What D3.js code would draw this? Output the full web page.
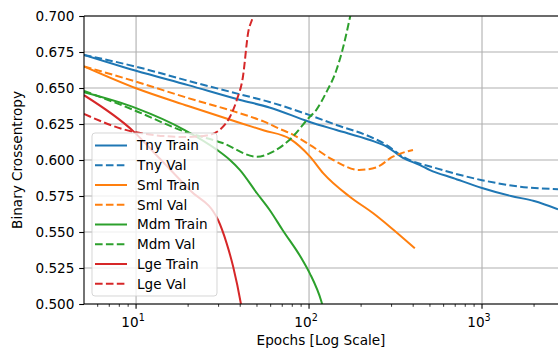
<!DOCTYPE html>
<html lang="en">
  <head>
    <meta charset="UTF-8" />
    <title>Binary Crossentropy vs Epochs</title>
    <script src="https://d3js.org/d3.v7.min.js"></script>
    <style>
      body { margin: 0; background: #fff; }
      svg text { font-family: "DejaVu Sans", sans-serif; fill: #000; }
    </style>
  </head>
  <body>
    <svg id="chart" width="558" height="352"></svg>

    <script>
      // values, epochs / loss per run
      const tnyTrainEpochs = [5, 10, 20, 40, 59, 100, 144, 225, 281, 349, 438, 500, 680, 1000, 1470, 2000, 2750];
      const tnyTrainLoss = [0.673, 0.662, 0.652, 0.6417, 0.6365, 0.6266, 0.6208, 0.6139, 0.6093, 0.6015, 0.5965, 0.593, 0.5875, 0.5806, 0.575, 0.5715, 0.5658];
      const tnyValEpochs = [5, 10, 20, 40, 59, 100, 144, 225, 281, 349, 547, 700, 1000, 1657, 2750];
      const tnyValLoss = [0.673, 0.6648, 0.655, 0.6456, 0.6403, 0.6313, 0.6243, 0.6162, 0.6104, 0.6023, 0.5942, 0.5905, 0.586, 0.5815, 0.5797];

      const smlTrainEpochs = [5, 10, 20, 40, 55, 78, 101, 121, 172, 235, 293, 409];
      const smlTrainLoss = [0.665, 0.6498, 0.6375, 0.6257, 0.6205, 0.6145, 0.6025, 0.5907, 0.5745, 0.563, 0.5537, 0.5387];
      const smlValEpochs = [5, 10, 20, 40, 55, 68, 78, 101, 138, 195, 244, 305, 399];
      const smlValLoss = [0.665, 0.6544, 0.643, 0.6324, 0.6266, 0.6215, 0.6185, 0.6105, 0.6, 0.5931, 0.5948, 0.6023, 0.607];

      const mdmTrainEpochs = [5, 10, 19.1, 29.4, 34.9, 39.9, 50, 59.2, 70.3, 91.6, 101, 118, 121];
      const mdmTrainLoss = [0.647, 0.636, 0.6208, 0.607, 0.6, 0.593, 0.5769, 0.5653, 0.5514, 0.5306, 0.5213, 0.5016, 0.497];
      const mdmValEpochs = [5, 9.7, 19.1, 31.3, 50, 62, 77, 101, 110, 125, 144, 156, 171, 176];
      const mdmValLoss = [0.648, 0.6347, 0.6197, 0.612, 0.6023, 0.6058, 0.6139, 0.63, 0.6347, 0.6463, 0.6625, 0.6764, 0.697, 0.704];

      const lgeTrainEpochs = [5, 9.7, 13.7, 20.5, 29.8, 33.4, 36.4, 40.4, 41.2];
      const lgeTrainLoss = [0.645, 0.6197, 0.601, 0.579, 0.5583, 0.5421, 0.526, 0.5, 0.494];
      const lgeValEpochs = [5, 9.6, 19.2, 25.6, 30.5, 34.9, 38.3, 41.5, 44.4, 47.4, 48.5];
      const lgeValLoss = [0.632, 0.6197, 0.616, 0.617, 0.621, 0.63, 0.642, 0.658, 0.688, 0.7, 0.706];

      const seriesNames = ["Tny Train", "Tny Val", "Sml Train", "Sml Val", "Mdm Train", "Mdm Val", "Lge Train", "Lge Val"];
      const seriesColors = ["#1f77b4", "#1f77b4", "#ff7f0e", "#ff7f0e", "#2ca02c", "#2ca02c", "#d62728", "#d62728"];

      const yTicks = [0.5, 0.525, 0.55, 0.575, 0.6, 0.625, 0.65, 0.675, 0.7];
      const xMajorTicks = [10, 100, 1000];
      const xMajorExponents = ["1", "2", "3"];

      const series = [
        { epochs: tnyTrainEpochs, loss: tnyTrainLoss, dashed: false },
        { epochs: tnyValEpochs, loss: tnyValLoss, dashed: true },
        { epochs: smlTrainEpochs, loss: smlTrainLoss, dashed: false },
        { epochs: smlValEpochs, loss: smlValLoss, dashed: true },
        { epochs: mdmTrainEpochs, loss: mdmTrainLoss, dashed: false },
        { epochs: mdmValEpochs, loss: mdmValLoss, dashed: true },
        { epochs: lgeTrainEpochs, loss: lgeTrainLoss, dashed: false },
        { epochs: lgeValEpochs, loss: lgeValLoss, dashed: true },
      ].map((s, i) => ({
        ...s,
        name: seriesNames[i],
        color: seriesColors[i],
        points: s.epochs.map((e, j) => [e, s.loss[j]]),
      }));

      const svg = d3.select("#chart");
      const plotLeft = 84, plotRight = 558, plotTop = 16, plotBottom = 304;
      const dash = "7.6,3.3";

      const x = d3.scaleLog().domain([5, 2750]).range([plotLeft, plotRight]);
      const y = d3.scaleLinear().domain([0.5, 0.7]).range([plotBottom, plotTop]);

      svg.append("defs").append("clipPath").attr("id", "plotClip")
        .append("rect")
        .attr("x", plotLeft).attr("y", plotTop)
        .attr("width", plotRight - plotLeft).attr("height", plotBottom - plotTop);

      // grid
      const grid = svg.append("g").attr("stroke", "#b0b0b0").attr("stroke-width", 1.1);
      grid.selectAll(".gx").data(xMajorTicks).enter().append("line")
        .attr("x1", (d) => x(d)).attr("x2", (d) => x(d))
        .attr("y1", plotTop).attr("y2", plotBottom);
      grid.selectAll(".gy").data(yTicks).enter().append("line")
        .attr("x1", plotLeft).attr("x2", plotRight)
        .attr("y1", (d) => y(d)).attr("y2", (d) => y(d));

      // lines
      const line = d3.line()
        .x((d) => x(d[0]))
        .y((d) => y(d[1]))
        .curve(d3.curveMonotoneX);

      svg.append("g").attr("clip-path", "url(#plotClip)")
        .selectAll("path").data(series).enter().append("path")
        .attr("fill", "none")
        .attr("stroke", (d) => d.color)
        .attr("stroke-width", 2)
        .attr("stroke-dasharray", (d) => (d.dashed ? dash : null))
        .attr("d", (d) => line(d.points));

      // axes
      const yAxis = d3.axisLeft(y).tickValues(yTicks)
        .tickFormat(d3.format(".3f")).tickSize(4.8).tickPadding(4.8);
      const gy = svg.append("g").attr("transform", `translate(${plotLeft},0)`).call(yAxis);
      gy.select(".domain").remove();
      gy.selectAll(".tick line").attr("stroke", "#000").attr("stroke-width", 1.1);
      gy.selectAll("text").style("font-size", "13.6px").attr("fill", "#000")
        .style("font-family", "DejaVu Sans");

      const minorTicks = d3.range(0, 4).flatMap((p) =>
        d3.range(2, 10).map((m) => m * Math.pow(10, p))
      ).filter((v) => v > 5 && v < 2750 && !xMajorTicks.includes(v));

      const gx = svg.append("g").attr("transform", `translate(0,${plotBottom})`);
      gx.selectAll(".minor").data(minorTicks).enter().append("line")
        .attr("x1", (d) => x(d)).attr("x2", (d) => x(d))
        .attr("y1", 0).attr("y2", 2.8)
        .attr("stroke", "#000").attr("stroke-width", 0.8);
      gx.selectAll(".major").data(xMajorTicks).enter().append("line")
        .attr("x1", (d) => x(d)).attr("x2", (d) => x(d))
        .attr("y1", 0).attr("y2", 4.8)
        .attr("stroke", "#000").attr("stroke-width", 1.1);
      const xl = gx.selectAll(".xl").data(xMajorTicks).enter().append("text")
        .attr("x", (d) => x(d) - 3)
        .attr("y", 22.5)
        .attr("text-anchor", "middle")
        .style("font-size", "13.6px");
      xl.append("tspan").text("10");
      xl.append("tspan")
        .attr("dy", -5.5)
        .style("font-size", "9.6px")
        .text((d, i) => xMajorExponents[i]);

      // spines
      const spines = svg.append("g").attr("stroke", "#000").attr("stroke-width", 1.1);
      spines.append("line").attr("x1", plotLeft).attr("x2", plotLeft).attr("y1", plotTop).attr("y2", plotBottom);
      spines.append("line").attr("x1", plotLeft).attr("x2", plotRight).attr("y1", plotTop).attr("y2", plotTop);
      spines.append("line").attr("x1", plotLeft).attr("x2", plotRight).attr("y1", plotBottom).attr("y2", plotBottom);

      // axis labels
      svg.append("text")
        .attr("x", (plotLeft + plotRight) / 2)
        .attr("y", 345)
        .attr("text-anchor", "middle")
        .style("font-size", "13.6px")
        .text("Epochs [Log Scale]");
      svg.append("text")
        .attr("transform", `translate(22,${(plotTop + plotBottom) / 2}) rotate(-90)`)
        .attr("text-anchor", "middle")
        .style("font-size", "13.6px")
        .text("Binary Crossentropy");

      // legend
      const legend = svg.append("g");
      legend.append("rect")
        .attr("x", 92).attr("y", 133)
        .attr("width", 125).attr("height", 163)
        .attr("rx", 3)
        .attr("fill", "#fff").attr("fill-opacity", 0.8)
        .attr("stroke", "#cccccc").attr("stroke-opacity", 0.8);
      const items = legend.selectAll(".item").data(series).enter().append("g")
        .attr("transform", (d, i) => `translate(0,${145.5 + i * 19.75})`);
      items.append("line")
        .attr("x1", 95).attr("x2", 127)
        .attr("stroke", (d) => d.color)
        .attr("stroke-width", 2)
        .attr("stroke-dasharray", (d) => (d.dashed ? dash : null));
      items.append("text")
        .attr("x", 137).attr("dy", "0.35em")
        .style("font-size", "13.6px")
        .text((d) => d.name);
    </script>
  </body>
</html>
